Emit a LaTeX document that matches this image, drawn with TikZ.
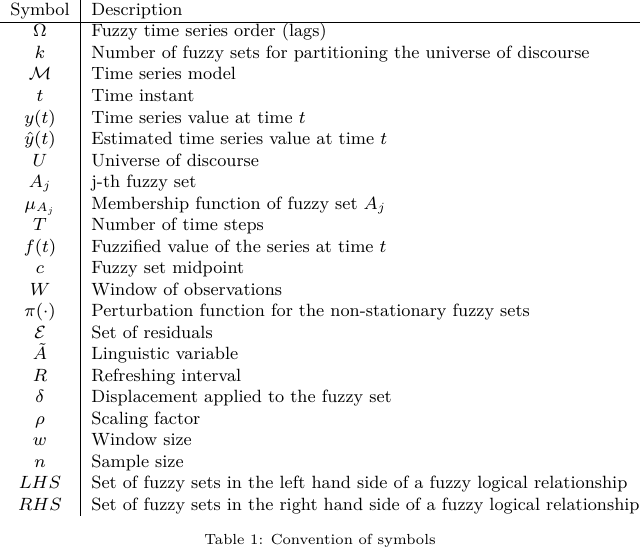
\documentclass[tikz,border=0pt]{standalone}
\usepackage{amsmath,amssymb}
\usepackage{fix-cm}
\begin{document}
\begin{tikzpicture}[x=0.5pt,y=-0.5pt,
  every node/.style={font=\fontsize{8.87pt}{10pt}\selectfont},
  sym/.style={anchor=base,inner sep=0pt},
  desc/.style={anchor=base west,inner sep=0pt}]
\useasboundingbox (0,0) rectangle (640,551);
\node[sym] (h1) at (40,16) {Symbol};
\node[desc] (h2) at (91,16) {Description};
\draw[line width=0.4pt] (80,0) -- (80,516);
\draw[line width=0.4pt] (0,22) -- (640,22);
\foreach \s/\d [count=\i from 0] in {
 {$\Omega$}/{Fuzzy time series order (lags)},
 {$k$}/{Number of fuzzy sets for partitioning the universe of discourse},
 {$\mathcal{M}$}/{Time series model},
 {$t$}/{Time instant},
 {$y(t)$}/{Time series value at time $t$},
 {$\hat{y}(t)$}/{Estimated time series value at time $t$},
 {$U$}/{Universe of discourse},
 {$A_j$}/{j-th fuzzy set},
 {$\mu_{A_j}$}/{Membership function of fuzzy set $A_j$},
 {$T$}/{Number of time steps},
 {$f(t)$}/{Fuzzified value of the series at time $t$},
 {$c$}/{Fuzzy set midpoint},
 {$W$}/{Window of observations},
 {$\pi(\cdot)$}/{Perturbation function for the non-stationary fuzzy sets},
 {$\mathcal{E}$}/{Set of residuals},
 {$\tilde{A}$}/{Linguistic variable},
 {$R$}/{Refreshing interval},
 {$\delta$}/{Displacement applied to the fuzzy set},
 {$\rho$}/{Scaling factor},
 {$w$}/{Window size},
 {$n$}/{Sample size},
 {$LHS$}/{Set of fuzzy sets in the left hand side of a fuzzy logical relationship},
 {$RHS$}/{Set of fuzzy sets in the right hand side of a fuzzy logical relationship}}
{
 \node[sym] (s\i) at (40,{37+21.5*\i}) {\s};
 \node[desc] (d\i) at (91,{37+21.5*\i}) {\d};
}
\node[anchor=base,inner sep=0pt,font=\fontsize{7.3pt}{9pt}\selectfont] (cap) at (320,544) {Table 1: Convention of symbols};
\end{tikzpicture}
\end{document}
